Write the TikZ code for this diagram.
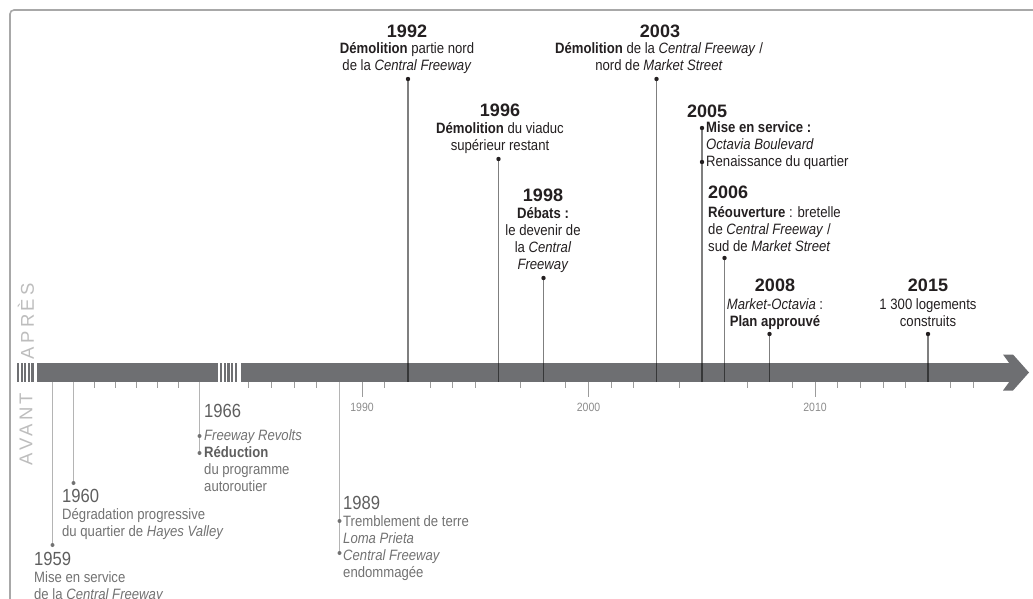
\documentclass[tikz,border=0pt]{standalone}
\usepackage{fontspec}
\setmainfont{Liberation Sans}[FakeStretch=0.875]
\newfontfamily\yearfont{Liberation Sans}
\newfontfamily\sidefont{Liberation Sans}[LetterSpace=18]
\definecolor{barc}{HTML}{6E6F72}
\definecolor{ink}{HTML}{231F20}
\definecolor{past}{HTML}{727272}
\definecolor{pastdark}{HTML}{5E5E5E}
\definecolor{pastline}{HTML}{B4B4B4}
\definecolor{tickc}{HTML}{9C9C9C}
\definecolor{axlab}{HTML}{8C8C8C}
\definecolor{framec}{HTML}{A8A8A8}
\definecolor{sidec}{HTML}{BDBDBD}
\begin{document}
\begin{tikzpicture}[x=1pt,y=-1pt,
  tickmark/.style={draw=tickc,line width=0.9pt},
  axislabel/.style={font=\fontsize{12}{12}\selectfont,text=axlab,inner sep=0pt,anchor=base},
  evline/.style={draw=black,draw opacity=0.5,line width=1.1pt},
  pastevline/.style={draw=pastline,line width=1.1pt},
  dotnow/.style={circle,fill=ink,inner sep=0pt,minimum size=4.4pt},
  dotpast/.style={circle,fill=past,inner sep=0pt,minimum size=4pt},
  yearnow/.style={font=\yearfont\bfseries\fontsize{18}{18}\selectfont,text=ink,inner sep=0pt},
  yearpast/.style={font=\fontsize{19}{19}\selectfont,text=pastdark,inner sep=0pt,anchor=base west},
  txtnow/.style={font=\fontsize{15}{17}\selectfont,text=ink,inner sep=0pt},
  txtpast/.style={font=\fontsize{15}{17}\selectfont,text=past,inner sep=0pt,align=left,anchor=base west},
  sidelabel/.style={font=\sidefont\fontsize{18.5}{18.5}\selectfont,text=sidec,rotate=90,inner sep=0pt}
]
\useasboundingbox (0,0) rectangle (1033,599);
\clip (0,0) rectangle (1033,599);
% frame
\draw[framec,line width=1.6pt,rounded corners=4pt] (10,650) -- (10,10) -- (1080,10);
% side labels
\node[sidelabel] (apres) at (26,321) {APRÈS};
\node[sidelabel] (avant) at (26,429) {AVANT};
% bar
\foreach \i in {0,...,4} \fill[barc] ({17+\i*3.6},363) rectangle ++(2.2,19);
\fill[barc] (36.5,363) rectangle (218.3,382);
\foreach \i in {0,...,4} \fill[barc] ({220+\i*3.7},363) rectangle ++(2.2,19);
\fill[barc] (240.5,363) rectangle (1017,382);
\fill[barc] (1003,354.5) -- (1013,354.5) -- (1029,372.5) -- (1013,390.5) -- (1003,390.5) -- (1016,372.5) -- cycle;
% ticks
\foreach \yr in {1961,...,1965} \draw[tickmark] ({52.5+(\yr-1959)*21},382) -- ++(0,6);
\foreach \yr in {1985,1986,1987,1988,1991,1993,1994,1995,1997,1999,2001,2002,2004,2007,2009,2011,2012,2013,2014,2016,2017}
  \draw[tickmark] ({362+(\yr-1990)*22.65},382) -- ++(0,6);
\foreach \yr in {1990,2000,2010} \draw[tickmark] ({362+(\yr-1990)*22.65},382) -- ++(0,15);
\node[axislabel] (l1990) at (362,411.5) {1990};
\node[axislabel] (l2000) at (588.5,411.5) {2000};
\node[axislabel] (l2010) at (815,411.5) {2010};

% ---------- events above ----------
% 1992
\coordinate (b1992) at (408,382);
\node[dotnow] (d1992) at (408,79) {};
\draw[evline] (d1992) -- (b1992);
\node[yearnow,anchor=base] (y1992) at (407,38) {1992};
\node[txtnow,anchor=base,align=center] (t1992) at (407,70.5) {\textbf{Démolition} partie nord\\de la \textit{Central Freeway}};
% 1996
\coordinate (b1996) at (498.5,382);
\node[dotnow] (d1996) at (498.5,159) {};
\draw[evline] (d1996) -- (b1996);
\node[yearnow,anchor=base] (y1996) at (500,116.5) {1996};
\node[txtnow,anchor=base,align=center] (t1996) at (500,150.5) {\textbf{Démolition} du viaduc\\supérieur restant};
% 1998
\coordinate (b1998) at (543.5,382);
\node[dotnow] (d1998) at (543.5,278) {};
\draw[evline] (d1998) -- (b1998);
\node[yearnow,anchor=base] (y1998) at (543,201.5) {1998};
\node[txtnow,anchor=base,align=center] (t1998) at (543,269) {\textbf{Débats :}\\le devenir de\\la \textit{Central}\\\textit{Freeway}};
% 2003
\coordinate (b2003) at (656.5,382);
\node[dotnow] (d2003) at (656.5,79) {};
\draw[evline] (d2003) -- (b2003);
\node[yearnow,anchor=base] (y2003) at (660,38) {2003};
\node[txtnow,anchor=base,align=center] (t2003) at (659,70.5) {\textbf{Démolition} de la \textit{Central Freeway} /\\nord de \textit{Market Street}};
% 2005
\coordinate (b2005) at (702,382);
\node[dotnow] (d2005a) at (702,128) {};
\node[dotnow] (d2005b) at (702,162) {};
\draw[evline] (d2005a) -- (d2005b);
\draw[evline] (d2005b) -- (b2005);
\node[yearnow,anchor=base west] (y2005) at (687,118) {2005};
\node[txtnow,anchor=base west,align=left] (t2005) at (706,166.5) {\textbf{Mise en service :}\\\textit{Octavia Boulevard}\\Renaissance du quartier};
% 2006
\coordinate (b2006) at (724.5,382);
\node[dotnow] (d2006) at (724.5,258) {};
\draw[evline] (d2006) -- (b2006);
\node[yearnow,anchor=base west] (y2006) at (708,198.5) {2006};
\node[txtnow,anchor=base west,align=left] (t2006) at (708,251.5) {\textbf{Réouverture} : bretelle\\de \textit{Central Freeway} /\\sud de \textit{Market Street}};
% 2008
\coordinate (b2008) at (769.5,382);
\node[dotnow] (d2008) at (769.5,334) {};
\draw[evline] (d2008) -- (b2008);
\node[yearnow,anchor=base] (y2008) at (775,291.5) {2008};
\node[txtnow,anchor=base,align=center] (t2008) at (775,326.5) {\textit{Market-Octavia} :\\\textbf{Plan approuvé}};
% 2015
\coordinate (b2015) at (928,382);
\node[dotnow] (d2015) at (928,334) {};
\draw[evline] (d2015) -- (b2015);
\node[yearnow,anchor=base] (y2015) at (928,291.5) {2015};
\node[txtnow,anchor=base,align=center] (t2015) at (928,326.5) {1 300 logements\\construits};

% ---------- events below ----------
% 1959
\coordinate (b1959) at (52.5,382);
\node[dotpast] (d1959) at (52.5,545) {};
\draw[pastevline] (b1959) -- (d1959);
\node[yearpast] (y1959) at (34,565) {1959};
\node[txtpast] (t1959) at (34,599.5) {Mise en service\\de la \textit{Central Freeway}};
% 1960
\coordinate (b1960) at (73.5,382);
\node[dotpast] (d1960) at (73.5,483) {};
\draw[pastevline] (b1960) -- (d1960);
\node[yearpast] (y1960) at (62,502) {1960};
\node[txtpast] (t1960) at (62,536.5) {Dégradation progressive\\du quartier de \textit{Hayes Valley}};
% 1966
\coordinate (b1966) at (199.5,382);
\node[dotpast] (d1966a) at (199.5,436) {};
\node[dotpast] (d1966b) at (199.5,453) {};
\draw[pastevline] (b1966) -- (d1966a);
\draw[pastevline] (d1966a) -- (d1966b);
\node[yearpast] (y1966) at (204,417) {1966};
\node[txtpast] (t1966) at (204,491.5) {\textit{Freeway Revolts}\\\textcolor{pastdark}{\textbf{Réduction}}\\du programme\\autoroutier};
% 1989
\coordinate (b1989) at (339.5,382);
\node[dotpast] (d1989a) at (339.5,521) {};
\node[dotpast] (d1989b) at (339.5,553) {};
\draw[pastevline] (b1989) -- (d1989a);
\draw[pastevline] (d1989a) -- (d1989b);
\node[yearpast] (y1989) at (343,509) {1989};
\node[txtpast] (t1989) at (343,577.5) {Tremblement de terre\\\textit{Loma Prieta}\\\textit{Central Freeway}\\endommagée};
\end{tikzpicture}
\end{document}
